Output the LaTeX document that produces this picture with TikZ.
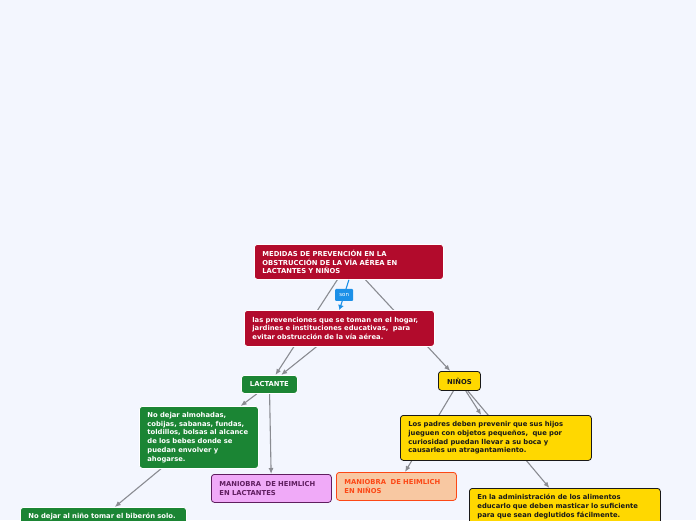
\documentclass[tikz,border=0pt]{standalone}
\usepackage{fontspec}
\setmainfont{DejaVu Sans}
\usetikzlibrary{arrows.meta,positioning,backgrounds}
\definecolor{PageBg}{RGB}{243,246,254}
\definecolor{Crimson}{RGB}{178,11,44}
\definecolor{LeafGreen}{RGB}{27,133,52}
\definecolor{Gold}{RGB}{255,216,0}
\definecolor{Ink}{RGB}{25,25,25}
\definecolor{Orchid}{RGB}{240,170,248}
\definecolor{Plum}{RGB}{95,30,95}
\definecolor{Peach}{RGB}{248,200,162}
\definecolor{Flame}{RGB}{252,72,22}
\definecolor{LinkBlue}{RGB}{28,144,232}
\definecolor{Wire}{RGB}{138,140,146}
\tikzset{
  >=Latex,
  box/.style={rounded corners=3pt,anchor=north west,align=left,font=\fontsize{6.8}{8.8}\selectfont\bfseries,inner xsep=8pt,inner ysep=3pt,line width=0.8pt},
  crimson/.style={box,fill=Crimson,draw=white,text=white},
  greenbox/.style={box,fill=LeafGreen,draw=white,text=white},
  yellowbox/.style={box,fill=Gold,draw=Ink,text=Ink},
  orchidbox/.style={box,fill=Orchid,draw=Plum,text=Plum},
  peachbox/.style={box,fill=Peach,draw=Flame,text=Flame},
  tag/.style={box,align=center,inner xsep=2pt},
  sonlabel/.style={fill=LinkBlue,text=white,rounded corners=1pt,font=\fontsize{5.5}{6}\selectfont,minimum width=18pt,minimum height=12pt,inner sep=1pt},
  link/.style={-{Latex[length=6pt,width=5pt]},line width=1.1pt,draw=Wire},
  sonlink/.style={-{Latex[length=5pt,width=6pt]},line width=1.1pt,draw=LinkBlue}
}
\begin{document}
\begin{tikzpicture}[x=1pt,y=-1pt]
  \clip (0,0) rectangle (696,520);
  \begin{scope}[on background layer]
    \fill[PageBg] (0,0) rectangle (696,520);
  \end{scope}
  \node[crimson,minimum height=35pt,text width=173pt] (root) at (254,244) {MEDIDAS DE PREVENCIÓN EN LA\\OBSTRUCCIÓN DE LA VÍA AÉREA EN\\LACTANTES Y NIÑOS};
  \node[crimson,minimum height=36pt,text width=174pt] (prev) at (244,310) {las prevenciones que se toman en el hogar,\\jardines e instituciones educativas,~ para\\evitar obstrucción de la vía aérea.};
  \node[greenbox,tag,minimum width=56pt,minimum height=18pt] (lact) at (241,375) {LACTANTE};
  \node[yellowbox,tag,minimum width=42pt,minimum height=19pt] (ninos) at (438,371) {NIÑOS};
  \node[greenbox,minimum height=62pt,text width=103pt] (almoh) at (139,406) {No dejar almohadas,\\cobijas, sabanas, fundas,\\toldillos, bolsas al alcance\\de los bebes donde se\\puedan envolver y\\ahogarse.};
  \node[orchidbox,minimum height=28pt,text width=104pt] (mlact) at (211,474) {MANIOBRA~ DE HEIMLICH\\EN LACTANTES};
  \node[peachbox,minimum height=28pt,text width=104pt] (mninos) at (336,472) {MANIOBRA~ DE HEIMLICH\\EN NIÑOS};
  \node[yellowbox,minimum height=45pt,text width=175pt] (padres) at (400,415) {Los padres deben prevenir que sus hijos\\jueguen con objetos pequeños,~ que por\\curiosidad puedan llevar a su boca y\\causarles un atragantamiento.};
  \node[yellowbox,minimum height=36pt,text width=175pt] (admin) at (469,488) {En la administración de los alimentos\\educarlo que deben masticar lo suficiente\\para que sean deglutidos fácilmente.};
  \node[greenbox,minimum height=18pt,text width=150pt] (biberon) at (20,507) {No dejar al niño tomar el biberón solo.};
  \begin{scope}[on background layer]
    \draw[link] (root) -- (lact);
    \draw[link] (root) -- (ninos);
    \draw[link] (prev) -- (lact);
    \draw[link] (lact) -- (almoh);
    \draw[link] (lact) -- (mlact);
    \draw[link] (almoh) -- (biberon);
    \draw[link] (ninos) -- (padres);
    \draw[link] (ninos) -- (admin);
    \draw[link] (ninos) -- (mninos);
  \end{scope}
  \draw[sonlink] (root.south) -- node[sonlabel,pos=0.5] (son) {son} (prev.north);
\end{tikzpicture}
\end{document}
